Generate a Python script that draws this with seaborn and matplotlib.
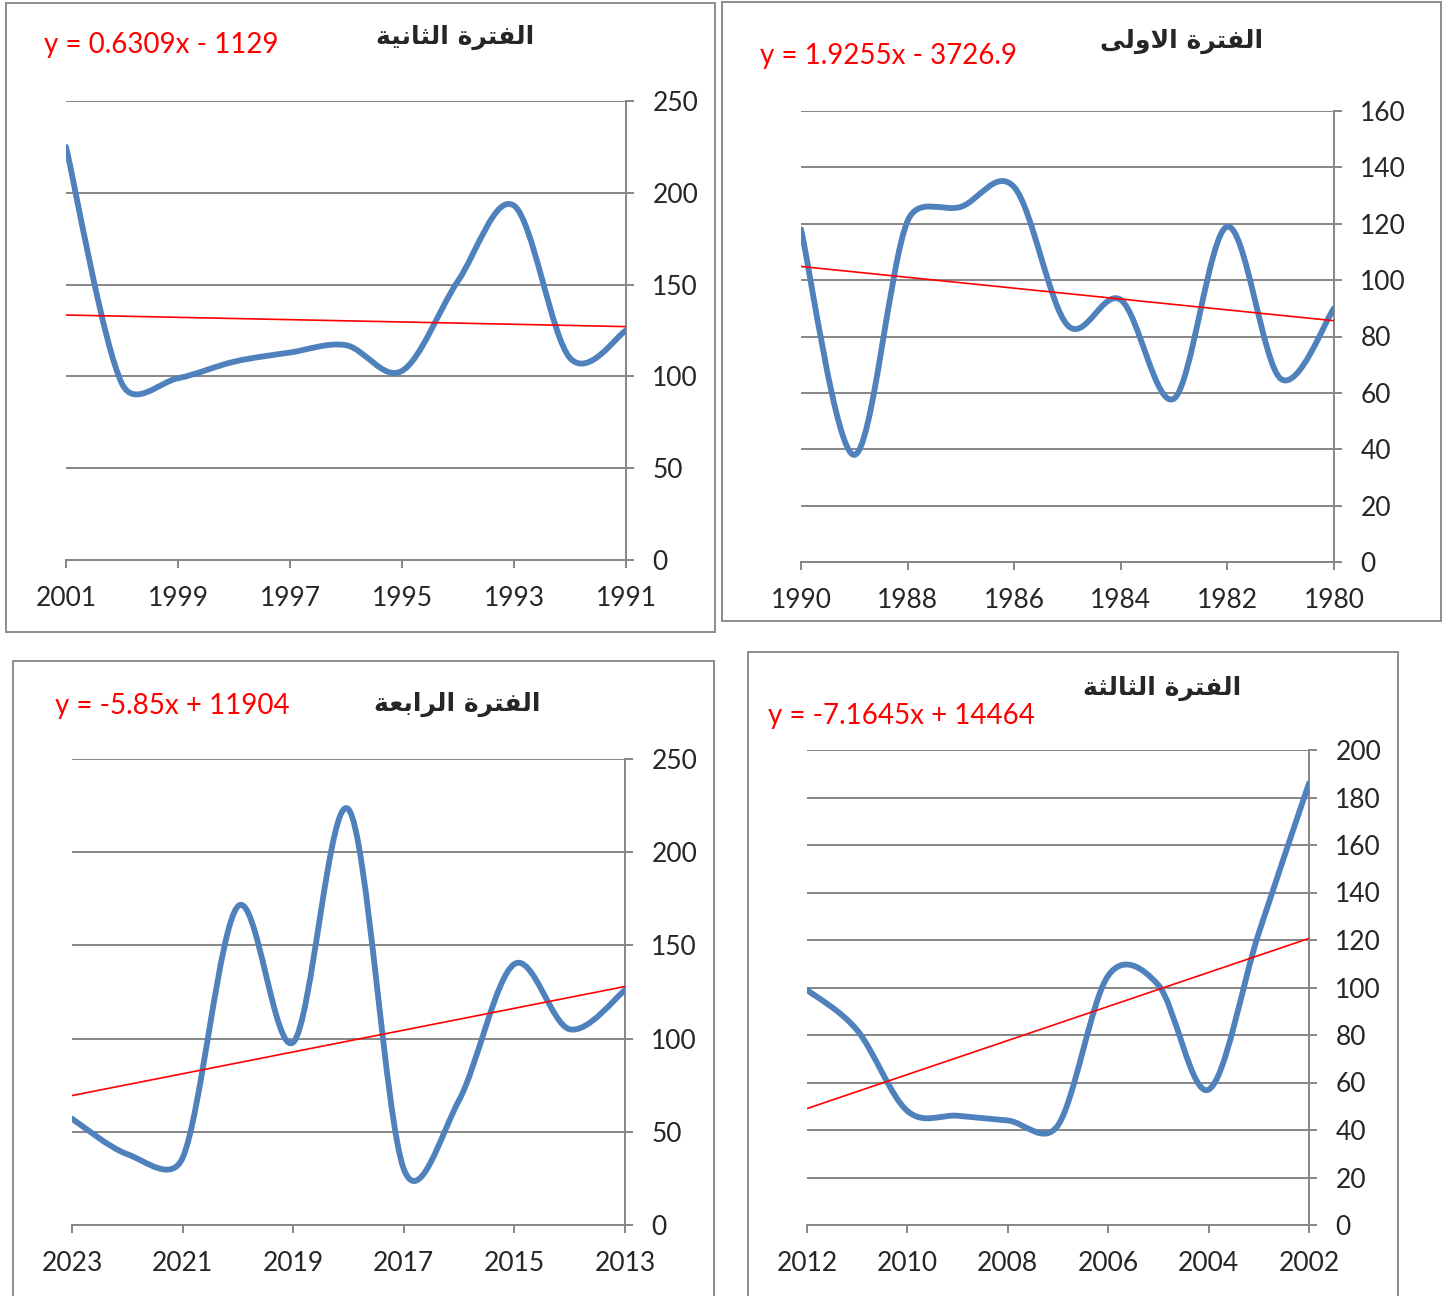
import numpy as np
import pandas as pd
import matplotlib
matplotlib.use("Agg")
import matplotlib.pyplot as plt
import seaborn as sns
from matplotlib.path import Path
from matplotlib.patches import PathPatch, Rectangle

# --- data (years run right-to-left) ---
years_1 = [1990, 1989, 1988, 1987, 1986, 1985, 1984, 1983, 1982, 1981, 1980]
rain_1 = [118, 38, 121, 126, 133, 84, 93, 58, 119, 65, 90]
trend_1 = (1.9255, -3726.9)

years_2 = [2001, 2000, 1999, 1998, 1997, 1996, 1995, 1994, 1993, 1992, 1991]
rain_2 = [225, 96, 99, 108, 113, 117, 103, 152, 193, 110, 125]
trend_2 = (0.6309, -1129)

years_3 = [2012, 2011, 2010, 2009, 2008, 2007, 2006, 2005, 2004, 2003, 2002]
rain_3 = [99, 82, 48, 46, 44, 42, 105, 101, 57, 123, 186]
trend_3 = (-7.1645, 14464)

years_4 = [2023, 2022, 2021, 2020, 2019, 2018, 2017, 2016, 2015, 2014, 2013]
rain_4 = [57, 38, 36, 171, 98, 223, 30, 67, 140, 105, 126]
trend_4 = (-5.85, 11904)

titles = ["الفترة الاولى", "الفترة الثانية", "الفترة الثالثة", "الفترة الرابعة"]
equations = ["y = 1.9255x - 3726.9", "y = 0.6309x - 1129",
             "y = -7.1645x + 14464", "y = -5.85x + 11904"]
y_max = [160, 250, 200, 250]
y_step = [20, 50, 20, 50]

W, H = 1450, 1296
BLUE = "#4F81BD"
GREY = "#868686"

# Arabic presentation forms: isolated, final, initial, medial
FORMS = {
    "ا": ("\uFE8D", "\uFE8E", None, None),
    "ب": ("\uFE8F", "\uFE90", "\uFE91", "\uFE92"),
    "ة": ("\uFE93", "\uFE94", None, None),
    "ت": ("\uFE95", "\uFE96", "\uFE97", "\uFE98"),
    "ث": ("\uFE99", "\uFE9A", "\uFE9B", "\uFE9C"),
    "ر": ("\uFEAD", "\uFEAE", None, None),
    "ع": ("\uFEC9", "\uFECA", "\uFECB", "\uFECC"),
    "ف": ("\uFED1", "\uFED2", "\uFED3", "\uFED4"),
    "ل": ("\uFEDD", "\uFEDE", "\uFEDF", "\uFEE0"),
    "ن": ("\uFEE5", "\uFEE6", "\uFEE7", "\uFEE8"),
    "و": ("\uFEED", "\uFEEE", None, None),
    "ى": ("\uFEEF", "\uFEF0", None, None),
    "ي": ("\uFEF1", "\uFEF2", "\uFEF3", "\uFEF4"),
    "لا": ("\uFEFB", "\uFEFC", None, None),
}


def shape_arabic(text):
    # shape letters and reverse to visual order (matplotlib draws left to right)
    words = []
    for word in text.split(" "):
        tokens = []
        i = 0
        while i < len(word):
            if word[i] == "ل" and i + 1 < len(word) and word[i + 1] == "ا":
                tokens.append("لا")
                i += 2
            else:
                tokens.append(word[i])
                i += 1
        out = []
        for k, t in enumerate(tokens):
            prev_joins = k > 0 and FORMS[tokens[k - 1]][2] is not None
            next_joins = k < len(tokens) - 1 and FORMS[t][2] is not None
            iso, fin, ini, med = FORMS[t]
            if prev_joins and next_joins:
                out.append(med)
            elif prev_joins:
                out.append(fin)
            elif next_joins:
                out.append(ini)
            else:
                out.append(iso)
        words.append("".join(out))
    return " ".join(words)[::-1]


def smooth_line(ax, xs, ys, **kw):
    # Excel style smoothed line: cubic Bezier through the points
    pts = ax.transData.transform(np.column_stack([xs, ys]).astype(float))
    n = len(pts)
    verts = [pts[0]]
    codes = [Path.MOVETO]
    for i in range(n - 1):
        p0 = pts[max(i - 1, 0)]
        p1 = pts[i]
        p2 = pts[i + 1]
        p3 = pts[min(i + 2, n - 1)]
        seg = np.hypot(*(p2 - p1))
        h1 = (p2 - p0) / 6.0
        h2 = (p3 - p1) / 6.0
        for h in (h1, h2):
            ln = np.hypot(*h)
            if ln > seg / 2 and ln > 0:
                h *= (seg / 2) / ln
        verts += [p1 + h1, p2 - h2, p2]
        codes += [Path.CURVE4] * 3
    verts = ax.transData.inverted().transform(np.array(verts))
    ax.add_patch(PathPatch(Path(verts, codes), fill=False, **kw))


sns.set_style("white")
plt.rcParams["font.family"] = ["Lato", "DejaVu Sans"]

fig = plt.figure(figsize=(W / 100, H / 100), dpi=100)


def px_box(l, t, r, b):
    return [l / W, 1 - b / H, (r - l) / W, (b - t) / H]


panels = [
    # frame, plot area, title centre, equation left/centre
    dict(frame=(722, 2, 1441, 621), area=(801, 111, 1334, 562),
         title=(1182, 41), eq=(760, 56)),
    dict(frame=(6, 3, 715, 632), area=(66, 101, 626, 560),
         title=(455, 37), eq=(44, 45)),
    dict(frame=(748, 652, 1398, 1310), area=(807, 750, 1309, 1225),
         title=(1162, 688), eq=(768, 716)),
    dict(frame=(13, 661, 714, 1310), area=(72, 759, 625, 1225),
         title=(457, 704), eq=(55, 706)),
]
series = [(years_1, rain_1, trend_1), (years_2, rain_2, trend_2),
          (years_3, rain_3, trend_3), (years_4, rain_4, trend_4)]

for k, (p, (yrs, vals, (slope, icpt))) in enumerate(zip(panels, series)):
    l, t, r, b = p["frame"]
    fig.patches.append(Rectangle((l / W, 1 - b / H), (r - l) / W, (b - t) / H,
                                 transform=fig.transFigure, fill=False,
                                 edgecolor="#8C8C8C", lw=1.4, zorder=0))

    ax = fig.add_axes(px_box(*p["area"]))
    ax.set_xlim(yrs[0], yrs[-1])
    ax.set_ylim(0, y_max[k])

    df = pd.DataFrame({"year": yrs, "value": vals})
    df["trend"] = slope * df["year"] + icpt

    smooth_line(ax, df["year"], df["value"], edgecolor=BLUE, lw=4.2,
                capstyle="round", joinstyle="round", zorder=3)
    sns.lineplot(data=df, x="year", y="trend", ax=ax, color="red", lw=1.2,
                 zorder=4, legend=False)

    ax.set_xticks(yrs[::2])
    ax.set_xticklabels([str(y) for y in yrs[::2]])
    ax.set_yticks(np.arange(0, y_max[k] + 1, y_step[k]))
    ax.yaxis.tick_right()
    ax.set_xlabel("")
    ax.set_ylabel("")
    ax.grid(False)
    ax.yaxis.grid(True, color=GREY, lw=1.4)
    ax.set_axisbelow(True)
    for s in ("top", "left"):
        ax.spines[s].set_visible(False)
    for s in ("right", "bottom"):
        ax.spines[s].set_color(GREY)
        ax.spines[s].set_linewidth(1.4)
    ax.tick_params(axis="x", direction="out", length=6, width=1.4,
                   color=GREY, pad=13, labelsize=19, bottom=True)
    ax.tick_params(axis="y", direction="out", length=6, width=1.4,
                   color=GREY, pad=13, labelsize=19, right=True, left=False)
    ax.set_facecolor("none")

    tx, ty = p["title"]
    fig.text(tx / W, 1 - ty / H, shape_arabic(titles[k]), ha="center",
             va="center", fontsize=18, fontweight="bold",
             family=["DejaVu Sans"])
    ex, ey = p["eq"]
    fig.text(ex / W, 1 - ey / H, equations[k], ha="left", va="center",
             fontsize=20, color="red")

fig.savefig("out.png", dpi=100)
